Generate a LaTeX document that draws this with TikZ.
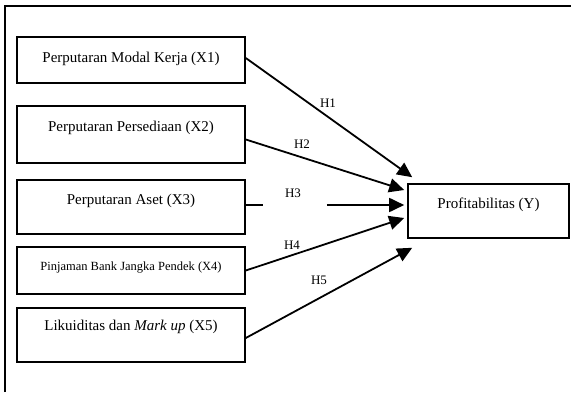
\documentclass[tikz,border=0pt]{standalone}
\usepackage{fontspec}
\setmainfont{Liberation Serif}
\usetikzlibrary{positioning,calc,arrows.meta}

\tikzset{
    varbox/.style={draw, line width=1.6pt, inner xsep=0pt, inner ysep=0pt, font=\fontsize{15}{18}\selectfont},
    hyplabel/.style={inner sep=0pt, font=\fontsize{13}{15}\selectfont},
    hyparrow/.style={line width=1.8pt, -{Triangle[length=15pt,width=14pt]}}
}

\begin{document}
\begin{tikzpicture}[x=1pt,y=1pt]
    \useasboundingbox (0,0) rectangle (571,392);

    % Frame
    \draw [line width=1.8pt] (5,0) -- (5,386) -- (571,386);

    % Independent variables
    \node [varbox, minimum width=228pt, text height=25pt, text depth=21pt] (x1) at (131,332) {Perputaran Modal Kerja (X1)};
    \node [varbox, minimum width=228pt, text height=25pt, text depth=32pt] (x2) at (131,257.5) {Perputaran Persediaan (X2)};
    \node [varbox, minimum width=228pt, text height=24pt, text depth=30pt] (x3) at (131,185) {Perputaran Aset (X3)};
    \node [varbox, minimum width=228pt, text height=23pt, text depth=24pt, font=\fontsize{12.5}{15}\selectfont] (x4) at (131,121.5) {Pinjaman Bank Jangka Pendek (X4)};
    \node [varbox, minimum width=228pt, text height=22pt, text depth=32pt] (x5) at (131,57) {Likuiditas dan \textit{Mark up} (X5)};

    % Dependent variable
    \node [varbox, minimum width=161pt, text height=24pt, text depth=30pt] (y) at (488.5,181) {Profitabilitas (Y)};

    % Hypotheses
    \draw [hyparrow] ([yshift=2pt]x1.east) -- ([shift={(5,6)}]y.north west);
    \draw [hyparrow] ([yshift=-5pt]x2.east) -- ([shift={(-3,21)}]y.west);
    \draw [line width=1.8pt] ([yshift=2pt]x3.east) -- ++(17,0);
    \coordinate (h3start) at ($(x3.east)+(81,2)$);
    \draw [hyparrow] (h3start) -- (h3start -| {$(y.west)+(-3,0)$});
    \draw [hyparrow] (x4.east) -- ([shift={(-3,-7)}]y.west);
    \draw [hyparrow] ([yshift=-3pt]x5.east) -- ([shift={(5,-9)}]y.south west);

    \node [hyplabel] (h1) at (328,289) {H1};
    \node [hyplabel] (h2) at (302,248) {H2};
    \node [hyplabel] (h3) at (293,199) {H3};
    \node [hyplabel] (h4) at (292,147) {H4};
    \node [hyplabel] (h5) at (319,112) {H5};
\end{tikzpicture}
\end{document}
